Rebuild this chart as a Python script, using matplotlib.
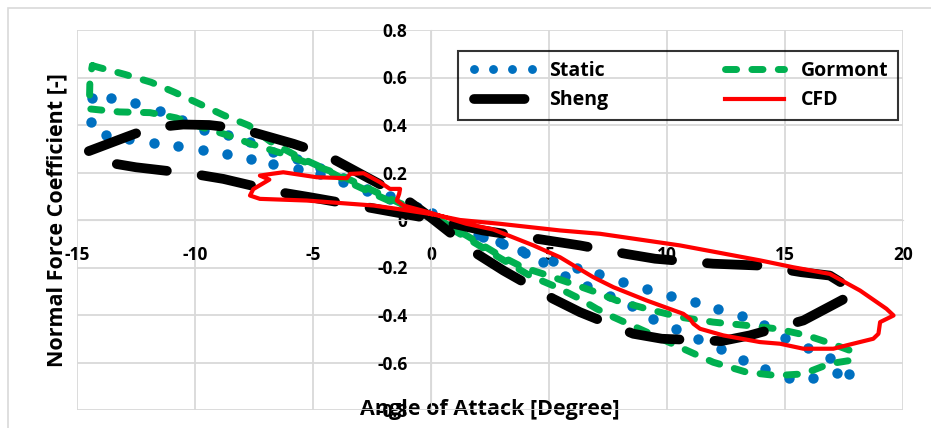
import matplotlib
matplotlib.use("Agg")
import matplotlib.pyplot as plt
from matplotlib.patches import Rectangle
from matplotlib.ticker import FuncFormatter

plt.rcParams['font.family'] = ['Open Sans', 'DejaVu Sans']
plt.rcParams['font.weight'] = 'bold'
plt.rcParams['axes.labelweight'] = 'bold'
plt.rcParams['axes.unicode_minus'] = False

# static normal force coefficient (one dot per sample)
static_aoa = [-14.4, -13.77, -12.78, -11.75, -10.7, -9.67, -8.64, -7.63, -6.68, -5.62, -4.7, -3.72, -2.72, -1.74, -0.6, 0.03,
              1.16, 2.0, 2.92, 3.84, 4.76, 5.68, 6.62, 7.58, 8.53, 9.42, 10.37, 11.33, 12.28, 13.2, 14.15, 15.18, 16.2, 17.19,
              17.73, 16.91, 15.99, 15.0, 14.12, 13.17, 12.17, 11.19, 10.16, 9.17, 8.15, 7.12, 6.17, 5.18, 4.0, 3.05, 2.2, 1.3,
              -0.7, -1.74, -2.72, -3.72, -4.7, -5.69, -6.68, -7.67, -8.6, -9.63, -10.55, -11.5, -12.53, -13.56, -14.35]
static_cn = [0.412, 0.36, 0.342, 0.325, 0.31, 0.295, 0.279, 0.258, 0.237, 0.215, 0.195, 0.159, 0.124, 0.103, 0.054, 0.03,
             -0.03, -0.062, -0.093, -0.132, -0.178, -0.234, -0.279, -0.32, -0.364, -0.416, -0.458, -0.5, -0.545, -0.589, -0.629, -0.664, -0.666, -0.643,
             -0.648, -0.58, -0.538, -0.496, -0.443, -0.406, -0.374, -0.346, -0.318, -0.29, -0.259, -0.227, -0.203, -0.171, -0.138, -0.1, -0.07, -0.025,
             0.05, 0.09, 0.13, 0.175, 0.22, 0.258, 0.286, 0.328, 0.356, 0.38, 0.423, 0.461, 0.492, 0.513, 0.513]

# Gormont model
gormont_aoa = [-14.35, -14.1, -12.97, -11.86, -10.87, -9.81, -8.76, -7.72, -6.8, -5.7, -4.5, -3.5, -2.2, -1.2, 0.0,
               1.5, 2.92, 4.2, 5.33, 6.31, 7.02, 7.73, 9.14, 10.55, 11.96, 13.38, 14.65, 15.78, 16.9, 17.85,
               17.82, 17.75, 16.98, 15.92, 14.65, 13.38, 11.96, 10.55, 9.14, 7.87, 6.88, 6.03, 4.76, 3.91, 2.92, 1.5, 0.0,
               -1.3, -2.7, -4.1, -5.1, -6.3, -7.6, -8.7, -9.7, -10.8, -11.9, -13.2, -14.48, -14.45, -14.35]
gormont_cn = [0.65, 0.643, 0.613, 0.58, 0.538, 0.489, 0.44, 0.398, 0.33, 0.27, 0.215, 0.16, 0.1, 0.055, 0.015,
              -0.075, -0.16, -0.235, -0.283, -0.332, -0.374, -0.409, -0.472, -0.536, -0.599, -0.641, -0.655, -0.648, -0.605, -0.59,
              -0.57, -0.549, -0.521, -0.486, -0.458, -0.444, -0.43, -0.409, -0.374, -0.339, -0.3, -0.27, -0.227, -0.2, -0.15, -0.065, 0.02,
              0.07, 0.135, 0.2, 0.235, 0.28, 0.32, 0.36, 0.39, 0.43, 0.452, 0.455, 0.468, 0.6, 0.65]

# Sheng model
sheng_aoa = [-14.5, -12.9, -11.86, -10.5, -9.4, -8.1, -5.83, -4.56, -2.72, -1.31, 0.0, 1.94, 3.07, 5.18, 6.31, 8.57, 9.78,
             12.3, 13.5, 15.78, 16.98, 18.04, 16.9, 15.7, 13.94, 11.96, 9.49, 8.22, 6.31, 4.48, 2.2, 0.94, 0.0,
             -2.72, -5.13, -6.4, -8.8, -10.07, -12.5, -13.77, -14.5]
sheng_cn = [0.29, 0.35, 0.388, 0.402, 0.4, 0.385, 0.321, 0.279, 0.18, 0.105, 0.01, -0.142, -0.213, -0.332, -0.388, -0.479, -0.5,
            -0.51, -0.486, -0.423, -0.36, -0.304, -0.234, -0.22, -0.192, -0.184, -0.163, -0.142, -0.107, -0.079, -0.044, -0.016, 0.005,
            0.054, 0.096, 0.117, 0.173, 0.194, 0.222, 0.243, 0.29]

# CFD result
cfd_aoa = [0.0, 1.23, 2.92, 5.47, 7.16, 10.55, 13.94, 15.35, 16.9, 18.18, 19.3, 19.6, 19.03, 18.96, 18.74, 17.6, 17.05,
           15.78, 14.79, 13.94, 12.39, 11.4, 11.12, 10.97, 10.69, 9.14, 7.73, 6.88, 6.17, 5.47, 4.34, 2.64, 1.5, 0.0,
           -1.17, -1.45, -1.35, -1.31, -1.74, -2.16, -2.86, -3.43, -3.57, -4.84, -6.26, -6.7, -7.25, -6.85, -7.53, -7.67,
           -7.25, -5.27, -2.44, -1.45, 0.0]
cfd_cn = [0.025, 0.0, -0.016, -0.044, -0.058, -0.107, -0.17, -0.199, -0.227, -0.297, -0.374, -0.402, -0.43, -0.479, -0.5, -0.528, -0.542,
          -0.542, -0.521, -0.514, -0.486, -0.458, -0.437, -0.416, -0.395, -0.339, -0.283, -0.241, -0.199, -0.157, -0.107, -0.04, -0.016, 0.03,
          0.061, 0.082, 0.11, 0.131, 0.131, 0.159, 0.197, 0.194, 0.176, 0.18, 0.201, 0.195, 0.187, 0.17, 0.13, 0.103,
          0.089, 0.082, 0.061, 0.047, 0.025]

x_ticks = [-15, -10, -5, 0, 5, 10, 15, 20]
y_ticks = [-0.8, -0.6, -0.4, -0.2, 0, 0.2, 0.4, 0.6, 0.8]

fig = plt.figure(figsize=(9.31, 4.28), dpi=100)
ax = fig.add_axes([77/931, 18/428, 826/931, 380/428])

# outer chart border
fig.patches.append(Rectangle((8/931, -0.1), 1.2, 1.1 - 8/428, transform=fig.transFigure,
                             fill=False, edgecolor='#d9d9d9', lw=1.2))

ax.plot(static_aoa, static_cn, ls='none', marker='o', ms=7.5, color='#0070c0', mec='none', label='Static', zorder=2)
ax.plot(gormont_aoa, gormont_cn, color='#00b050', lw=5, ls=(0, (1.6, 2.2)), dash_capstyle='round',
        solid_joinstyle='round', label='Gormont', zorder=3)
ax.plot(sheng_aoa, sheng_cn, color='black', lw=7, ls=(0, (5.2, 3.6)), dash_capstyle='round',
        label='Sheng', zorder=4)
ax.plot(cfd_aoa, cfd_cn, color='#ff0000', lw=3, solid_joinstyle='round', label='CFD', zorder=5)

ax.set_xlim(-15, 20)
ax.set_ylim(-0.8, 0.8)
ax.set_xticks(x_ticks)
ax.set_yticks(y_ticks)
ax.yaxis.set_major_formatter(FuncFormatter(lambda v, p: '0' if abs(v) < 1e-9 else f'{v:.1f}'))
ax.grid(True, color='#d9d9d9', lw=1.3)
ax.set_axisbelow(True)

for s in ['top', 'right']:
    ax.spines[s].set_visible(False)
ax.spines['left'].set_position(('data', 0))
ax.spines['bottom'].set_position(('data', 0))
ax.spines['left'].set_color('#d9d9d9')
ax.spines['bottom'].set_color('#d9d9d9')
ax.tick_params(length=0, labelsize=12.5, pad=0)
ax.tick_params(axis='x', pad=19)
ax.tick_params(axis='y', pad=17)

ax.set_xlabel('Angle of Attack [Degree]', fontsize=15.5, fontweight='bold', va='center')
ax.xaxis.set_label_coords(0.5, 0.0)
ax.set_ylabel('Normal Force Coefficient [-]', fontsize=15.5, fontweight='bold', va='center')
ax.yaxis.set_label_coords(-0.024, 0.5)

h, l = ax.get_legend_handles_labels()
order = [0, 2, 1, 3]
leg = ax.legend([h[i] for i in order], [l[i] for i in order], ncol=2, numpoints=4, markerscale=0.85,
                loc='upper left', bbox_to_anchor=(458/931, 1 - 51/428), bbox_transform=fig.transFigure,
                borderaxespad=0, fancybox=False, edgecolor='black', facecolor='none', framealpha=None,
                fontsize=14, handlelength=3.6, handletextpad=0.6, columnspacing=5.7, labelspacing=0.5,
                borderpad=0.5)
leg.get_frame().set_linewidth(1.5)

fig.savefig('out.png', dpi=100)
